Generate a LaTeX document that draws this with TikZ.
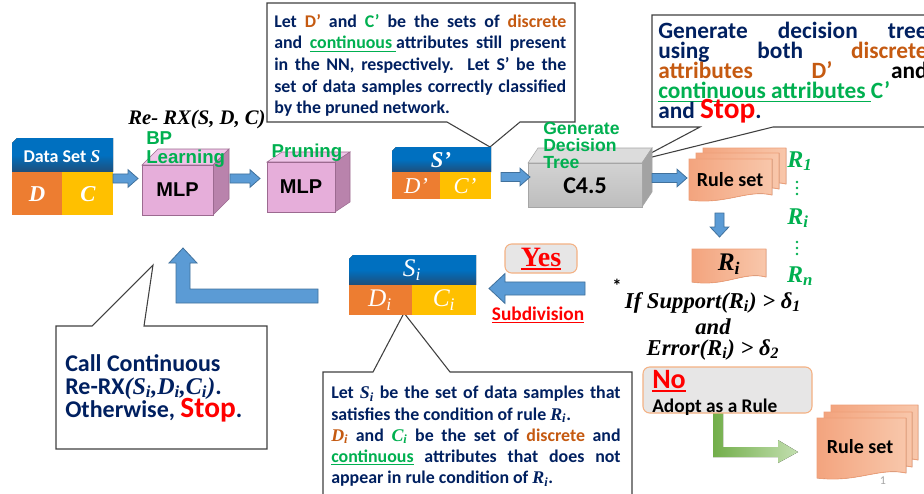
\RequirePackage{fix-cm}
\documentclass[tikz,border=0pt]{standalone}
\usepackage{fontspec}
\setmainfont{Carlito}
\newfontfamily\arialf{Liberation Sans}
\newfontfamily\seriff{Liberation Serif}
\newbox\myulbox
\newcommand\myul[3]{\setbox\myulbox=\hbox{#3}\rlap{\rule[-#2]{\wd\myulbox}{#1}}\box\myulbox}
\newcommand\bi[1]{{\seriff\bfseries\itshape #1}}
\newcommand\bsub[2]{{\seriff\bfseries\itshape #1\textsubscript{#2}}}
\newcommand\isub[2]{{\seriff\itshape #1\textsubscript{#2}}}
\newcommand\tightls{\lineskiplimit-20pt\relax}
\usetikzlibrary{calc}
\definecolor{navy}{HTML}{002060}
\definecolor{ora}{HTML}{C55A11}
\definecolor{grn}{HTML}{00B050}
\definecolor{bluetop}{HTML}{0070C0}
\definecolor{bluebot}{HTML}{1F4E79}
\definecolor{oblock}{HTML}{ED7D31}
\definecolor{yblock}{HTML}{FFC000}
\definecolor{arrowblue}{HTML}{5B9BD5}
\definecolor{arrowedge}{HTML}{41719C}
\definecolor{pinkf}{HTML}{E6AEDA}
\definecolor{pinks}{HTML}{B983AC}
\definecolor{pinkt}{HTML}{EFC5E8}
\definecolor{pinke}{HTML}{9C6A90}
\definecolor{grayt}{HTML}{DCDCDC}
\definecolor{grayf1}{HTML}{D3D3D3}
\definecolor{grayf2}{HTML}{BDBDBD}
\definecolor{grays}{HTML}{A3A3A3}
\definecolor{docl}{HTML}{F3A47E}
\definecolor{docr}{HTML}{F8C7AB}
\definecolor{docedge}{HTML}{EE9F78}
\definecolor{boxgray}{HTML}{E7E6E6}
\definecolor{boxedge}{HTML}{F4B183}
\definecolor{grnA}{HTML}{72AE4A}
\definecolor{grnB}{HTML}{C3DFB0}
\definecolor{pagegray}{HTML}{A6A6A6}
\tikzset{
  barrow/.style={fill=arrowblue, draw=arrowedge, line width=0.6pt},
  callout/.style={fill=white, draw=black!75, line width=0.8pt},
  ctext/.style={inner sep=0pt, anchor=north west, align=justify, text=navy,
    font=\fontsize{13.4}{16.2}\selectfont\bfseries\tightls},
  grnlab/.style={text=grn, font=\arialf\bfseries, inner sep=0pt, align=left},
  docstyle/.style={left color=docl, right color=docr, draw=docedge, line width=0.6pt},
  pinkcube/.style={draw=pinke, line width=0.4pt},
  graycube/.style={draw=gray!70, line width=0.4pt},
  whitemath/.style={text=white, inner sep=0pt},
  plain/.style={inner sep=0pt},
  rlist/.style={inner sep=0pt, text=grn, font=\fontsize{18}{18}\selectfont},
  dotg/.style={fill=grn},
  graybox/.style={fill=boxgray, draw=boxedge, line width=0.8pt, rounded corners=5pt}
}
\newcommand\docshape[4]{\filldraw[docstyle] (#1,#2) -- (#3,#2) -- (#3,#4-5)
  .. controls ({#3-0.3*(#3-#1)},#4-11) and ({#1+0.45*(#3-#1)},#4+5) .. (#1,#4) -- cycle;}
\newcommand\rarrow[2]{\filldraw[barrow] let \p1=(#1), \p2=(#2) in
  (\x1,\y1+3.4pt) -- (\x2-7.5pt,\y1+3.4pt) -- (\x2-7.5pt,\y1+6.6pt) -- (\x2,\y1)
  -- (\x2-7.5pt,\y1-6.6pt) -- (\x2-7.5pt,\y1-3.4pt) -- (\x1,\y1-3.4pt) -- cycle;}
\begin{document}
\begin{tikzpicture}[x=0.75pt,y=-0.75pt]
\useasboundingbox (0,0) rectangle (924,493);
\clip (0,0) rectangle (924,493);
\fill[white] (0,0) rectangle (924,493);

% ---------- callouts ----------
\filldraw[callout] (267,3) -- (575,3) -- (575,122) -- (520,122) -- (490,147) -- (447,122) -- (267,122) -- cycle;
\filldraw[callout] (652,15) -- (940,15) -- (940,127) -- (773,127) -- (636,161) -- (700,127) -- (652,127) -- cycle;
\filldraw[callout] (323,372) -- (373,372) -- (404,313) -- (450,372) -- (632,372) -- (632,510) -- (323,510) -- cycle;
\filldraw[callout] (56,326) -- (92,326) -- (153,265) -- (144,326) -- (267,326) -- (267,449) -- (56,449) -- cycle;

% ---------- data set S ----------
\fill[top color=bluetop, bottom color=bluebot, middle color=bluetop] (12,172) -- (12,143) -- (17,138) -- (113,138) -- (113,172) -- cycle;
\fill[oblock] (12,172) rectangle (62,215);
\fill[yblock] (62,172) rectangle (113,215);
\node[text=white, plain, font=\fontsize{13.5}{13.5}\selectfont\bfseries] (ds) at (62,157) {Data Set \bi{S}};
\node[whitemath, font=\fontsize{17}{17}\selectfont] (dsD) at (37,194) {\bi{D}};
\node[whitemath, font=\fontsize{17}{17}\selectfont] (dsC) at (88,194) {\bi{C}};

% ---------- MLP 1 ----------
\filldraw[pinkcube, fill=pinkt] (142,165) -- (158,149) -- (229,149) -- (213,165) -- cycle;
\filldraw[pinkcube, fill=pinks] (213,165) -- (229,149) -- (229,199) -- (213,215) -- cycle;
\filldraw[pinkcube, fill=pinkf] (142,165) rectangle (213,215);
\node[plain, font=\arialf\fontsize{15}{15}\selectfont\bfseries] (mlp1) at (177.5,190) {MLP};

% ---------- MLP 2 ----------
\filldraw[pinkcube, fill=pinkt] (267,162) -- (282,152) -- (350,152) -- (335,162) -- cycle;
\filldraw[pinkcube, fill=pinks] (335,162) -- (350,152) -- (350,202) -- (335,212) -- cycle;
\filldraw[pinkcube, fill=pinkf] (267,162) rectangle (335,212);
\node[plain, font=\arialf\fontsize{15}{15}\selectfont\bfseries] (mlp2) at (301,187) {MLP};

% ---------- S' block ----------
\fill[top color=bluetop, bottom color=bluebot, middle color=bluetop] (392,172) -- (392,151) -- (396,147) -- (491,147) -- (491,172) -- cycle;
\fill[oblock] (392,172) rectangle (440,199);
\fill[yblock] (440,172) rectangle (491,199);
\node[whitemath, font=\fontsize{17}{17}\selectfont] (sp) at (441,160) {\bi{S’}};
\node[whitemath, font=\seriff\itshape\fontsize{17}{17}\selectfont] (spD) at (416,186) {D’};
\node[whitemath, font=\seriff\itshape\fontsize{17}{17}\selectfont] (spC) at (465,186) {C’};

% ---------- C4.5 cube ----------
\filldraw[graycube, fill=grayt] (528,163) -- (538,148) -- (652,148) -- (642,163) -- cycle;
\filldraw[graycube, fill=grays] (642,163) -- (652,148) -- (652,192) -- (642,207) -- cycle;
\filldraw[graycube, top color=grayf1, bottom color=grayf2] (528,163) rectangle (642,207);
\node[plain, font=\fontsize{18}{18}\selectfont\bfseries] (c45) at (585,186) {C4.5};

% ---------- Rule set 1 ----------
\docshape{703}{148}{786}{189}
\docshape{696}{153}{779}{194}
\docshape{689}{159}{772}{200}
\node[plain, font=\fontsize{15}{15}\selectfont\bfseries] (rs1) at (730,180) {Rule set};

% ---------- R_i ----------
\docshape{692}{249}{766}{282}
\node[plain, font=\fontsize{19}{19}\selectfont] (ri) at (729,264) {\bsub{R}{i}};

% ---------- Rule set 2 ----------
\docshape{831}{405}{918}{465}
\docshape{824}{412}{912}{472}
\docshape{817}{418}{906}{478}
\node[plain, font=\fontsize{15}{15}\selectfont\bfseries] (rs2) at (860,447) {Rule set};

% ---------- S_i block ----------
\fill[top color=bluetop, bottom color=bluebot, middle color=bluetop] (349,285) -- (349,259) -- (353,255) -- (476,255) -- (476,285) -- cycle;
\fill[oblock] (349,285) rectangle (412,315);
\fill[yblock] (412,285) rectangle (476,315);
\node[whitemath, font=\fontsize{19}{19}\selectfont] (si) at (412,270) {\isub{S}{i}};
\node[whitemath, font=\fontsize{19}{19}\selectfont] (siD) at (380,300) {\isub{D}{i}};
\node[whitemath, font=\fontsize{19}{19}\selectfont] (siC) at (444,300) {\isub{C}{i}};

% ---------- arrows ----------
\coordinate (a1s) at (113,178.5); \coordinate (a1e) at (138,178.5);
\coordinate (a2s) at (230,178.5); \coordinate (a2e) at (260,178.5);
\coordinate (a3s) at (501,177); \coordinate (a3e) at (530,177);
\coordinate (a4s) at (652,178); \coordinate (a4e) at (687,178);
\rarrow{a1s}{a1e}
\rarrow{a2s}{a2e}
\rarrow{a3s}{a3e}
\rarrow{a4s}{a4e}
% down arrow rule set -> R_i
\coordinate (dn1) at (719.5,213); \coordinate (dn2) at (719.5,237);
\filldraw[barrow] let \p1=(dn1), \p2=(dn2) in
  (\x1-3.4pt,\y1) -- (\x1+3.4pt,\y1) -- (\x1+3.4pt,\y2+7.5pt) -- (\x1+7pt,\y2+7.5pt) -- (\x2,\y2)
  -- (\x1-7pt,\y2+7.5pt) -- (\x1-3.4pt,\y2+7.5pt) -- cycle;
% left arrow (subdivision)
\coordinate (l1) at (585,288.5); \coordinate (l2) at (489,288.5);
\filldraw[barrow] let \p1=(l1), \p2=(l2) in
  (\x1,\y1+4.9pt) -- (\x2+12pt,\y1+4.9pt) -- (\x2+12pt,\y1+11.2pt) -- (\x2,\y1)
  -- (\x2+12pt,\y1-11.2pt) -- (\x2+12pt,\y1-4.9pt) -- (\x1,\y1-4.9pt) -- cycle;
% bent arrow back to MLP
\filldraw[barrow] (318,289) -- (190,289) -- (190,263) -- (197,263) -- (183,248) -- (169,263)
  -- (176,263) -- (176,303) -- (318,303) -- cycle;
% green bent arrow
\fill[left color=grnA, right color=grnB] (713,400) -- (723,400) -- (723,447) -- (778,447) -- (778,440)
  -- (798,452) -- (778,463) -- (778,457) -- (713,457) -- cycle;

% ---------- Yes / No boxes ----------
\filldraw[graybox] (505,244) rectangle (577,273);
\node[plain, text=red, font=\seriff\fontsize{21}{21}\selectfont\bfseries] (yes) at (541,259)
  {\myul{1.3pt}{2.5pt}{Yes}};
\node[plain, text=red, font=\fontsize{14.5}{14.5}\selectfont\bfseries] (subd) at (538,315)
  {\myul{1pt}{2.5pt}{Subdivision}};
\filldraw[graybox] (643,367) rectangle (812,413);
\node[plain, anchor=west, text=red, font=\fontsize{21}{21}\selectfont\bfseries] (no) at (652,381)
  {\myul{1.4pt}{2.5pt}{No}};
\node[plain, anchor=west, font=\fontsize{14.5}{14.5}\selectfont\bfseries] (adopt) at (652,407) {Adopt as a Rule};

% ---------- labels ----------
\node[plain, font=\fontsize{15.5}{15.5}\selectfont] (rerx) at (197,120) {\bi{Re- RX(S, D, C)}};
\node[grnlab, anchor=north west, font=\arialf\bfseries\fontsize{14}{14.3}\selectfont] (bpl) at (146,131) {BP\\Learning};
\node[grnlab, font=\arialf\bfseries\fontsize{14}{14}\selectfont] (prun) at (307,153) {Pruning};
\node[grnlab, anchor=north west, font=\arialf\bfseries\fontsize{13.2}{12.6}\selectfont\tightls] (gdt) at (543,122) {Generate\\Decision\\Tree};

% R list
\node[rlist] (r1) at (800,161) {\bsub{R}{1}};
\node[rlist] (rim) at (798,218) {\bsub{R}{i}};
\node[rlist] (rn) at (800,276) {\bsub{R}{n}};
\foreach \yy in {182,188,194,242,248,254} \fill[dotg] (797,\yy) circle (1.3);

% condition
\node[plain, font=\fontsize{14}{14}\selectfont\bfseries] (star) at (617,286) {*};
\node[plain, font=\fontsize{17}{17}\selectfont] (cond1) at (713,303) {\bi{If Support(R\textsubscript{i}) > δ\textsubscript{1}}};
\node[plain, font=\fontsize{17}{17}\selectfont] (cond2) at (713,327) {\bi{and}};
\node[plain, font=\fontsize{17}{17}\selectfont] (cond3) at (713,350) {\bi{Error(R\textsubscript{i}) > δ\textsubscript{2}}};

% ---------- callout texts ----------
\node[ctext, text width=219pt] (t1) at (274,14)
 {Let \textcolor{ora}{D’} and \textcolor{grn}{C’} be the sets of \textcolor{ora}{discrete}\linebreak
  and \textcolor{grn}{\myul{0.7pt}{2pt}{continuous\ }}attributes still present\linebreak
  in the NN, respectively. Let S’ be the\linebreak
  set of data samples correctly classified\linebreak
  by the pruned network.};
\node[ctext, text width=202pt, font=\fontsize{17.5}{15}\selectfont\bfseries\tightls] (t2) at (658,22)
 {Generate decision tree\linebreak
  using both \textcolor{ora}{discrete\linebreak attributes D’} \textcolor{black}{and}\linebreak
  \textcolor{grn}{\myul{0.8pt}{2.5pt}{continuous attributes\ }C’}\linebreak
  and \textcolor{red}{\fontsize{22}{15}\selectfont Stop}.};
\node[ctext, text width=217pt, font=\fontsize{13.4}{15.9}\selectfont\bfseries\tightls] (t3) at (331,386)
 {Let \bsub{S}{i} be the set of data samples that\linebreak
  satisfies the condition of rule \bsub{R}{i}.\\
  \textcolor{ora}{\bsub{D}{i}} and \textcolor{grn}{\bsub{C}{i}} be the set of \textcolor{ora}{discrete} and\linebreak
  \textcolor{grn}{\myul{0.7pt}{2pt}{continuous}} attributes that does not\linebreak
  appear in rule condition of \bsub{R}{i}.};
\node[ctext, align=left, font=\fontsize{18}{17.3}\selectfont\bfseries\tightls] (t4) at (65,354)
 {Call Continuous\\ Re-RX\bi{(}\bsub{S}{i}\bi{,}\bsub{D}{i}\bi{,}\bsub{C}{i}\bi{)}.\\ Otherwise, \textcolor{red}{\fontsize{22}{17.3}\selectfont Stop}.};

\node[plain, text=pagegray, font=\fontsize{9}{9}\selectfont] (pg) at (883,481) {1};
\end{tikzpicture}
\end{document}
